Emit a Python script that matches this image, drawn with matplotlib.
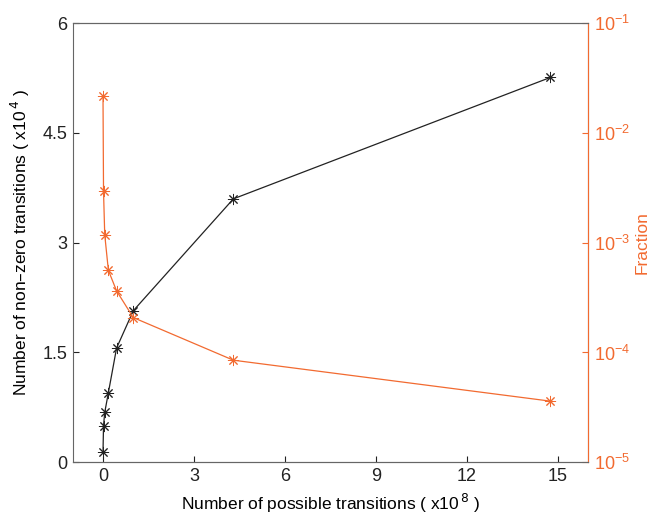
import matplotlib
matplotlib.use('Agg')
import matplotlib.pyplot as plt

plt.rcParams['font.family'] = ['Liberation Sans', 'DejaVu Sans']

# data (x in units of 1e8, counts in units of 1e4)
possible = [0.003, 0.02, 0.06, 0.18, 0.45, 1.0, 4.3, 14.75]
nonzero = [0.14, 0.50, 0.68, 0.95, 1.56, 2.07, 3.60, 5.26]
fraction = [2.16e-2, 2.94e-3, 1.18e-3, 5.6e-4, 3.64e-4, 2.08e-4, 8.5e-5, 3.6e-5]

orange = '#f26a30'
dark = '#222222'
grey = '#666666'
asterisk = (8, 2, 0)

fig = plt.figure(figsize=(6.48, 5.17), dpi=100)
ax = fig.add_axes([0.112, 0.106, 0.796, 0.849])
ax.plot(possible, nonzero, color=dark, lw=0.9, marker=asterisk, ms=8, mew=0.7)
ax.set_xlim(-1, 16)
ax.set_ylim(0, 6)
ax.set_xticks([0, 3, 6, 9, 12, 15])
ax.set_yticks([0, 1.5, 3, 4.5, 6])
ax.set_yticklabels(['0', '1.5', '3', '4.5', '6'])
ax.tick_params(direction='in', length=4, labelsize=13, colors='#222222', pad=4)
ax.set_xlabel('Number of possible transitions ( x10$^{\\,8}$ )', fontsize=12.5, labelpad=5)
ax.set_ylabel('Number of non\u2013zero transitions ( x10$^{\\,4}$ )', fontsize=12.5, labelpad=7)
for s in ax.spines.values():
    s.set_color(grey)

ax2 = ax.twinx()
ax2.plot(possible, fraction, color=orange, lw=0.9, marker=asterisk, ms=8, mew=0.7)
ax2.set_yscale('log')
ax2.set_ylim(1e-5, 1e-1)
ax2.set_yticks([1e-5, 1e-4, 1e-3, 1e-2, 1e-1])
ax2.minorticks_off()
ax2.tick_params(axis='y', which='both', direction='in', length=4, labelsize=13, colors=orange, pad=4)
ax2.set_ylabel('Fraction', color=orange, fontsize=12.5, labelpad=3)
ax2.spines['right'].set_color(orange)
ax2.spines['left'].set_visible(False)
ax2.spines['top'].set_color(grey)
ax2.spines['bottom'].set_color(grey)

fig.savefig('out.png', dpi=100)
